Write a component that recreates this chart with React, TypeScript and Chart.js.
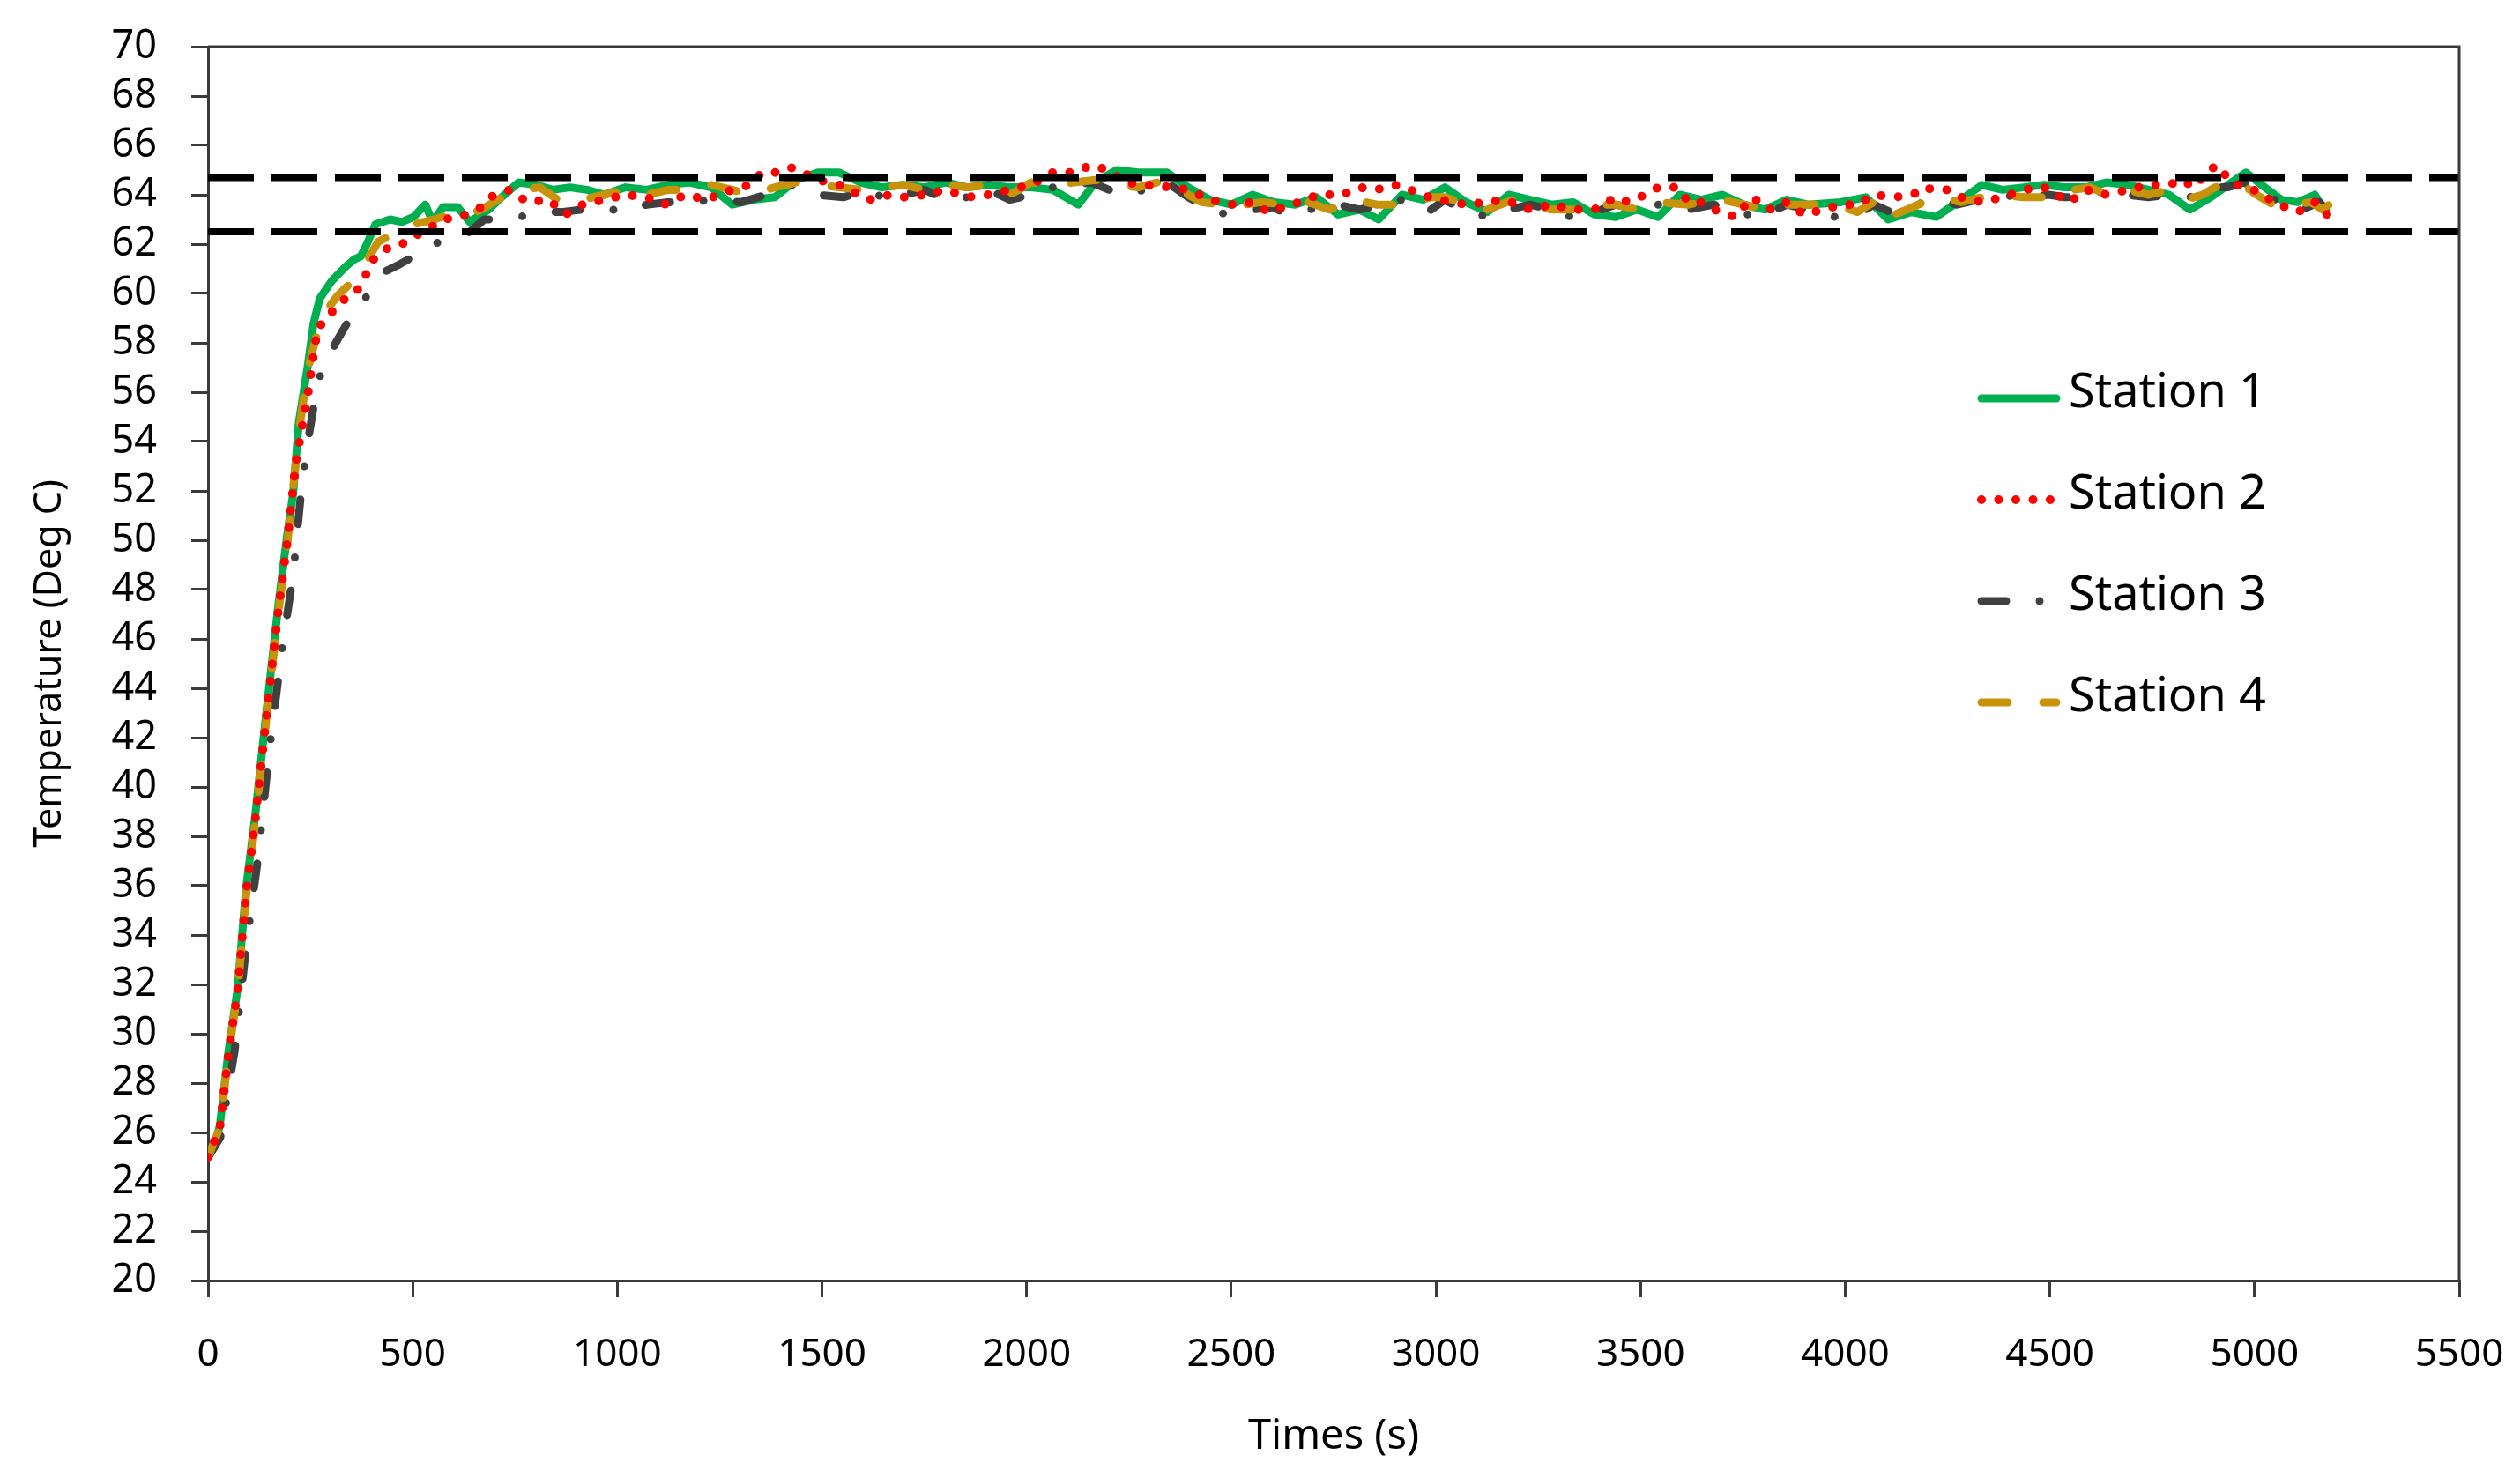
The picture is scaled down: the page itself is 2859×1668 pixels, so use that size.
import { useEffect, useRef } from "react";
import { Chart, registerables } from "chart.js";

Chart.register(...registerables);

// ---------- DATA ----------
const seriesNames = ["Station 1", "Station 2", "Station 3", "Station 4"];

const station1Time = [0, 15, 29, 50, 72, 93, 115, 133, 151, 172, 194, 208, 222, 244, 258, 273, 302, 337, 359, 373, 388, 409, 445, 474, 502, 531, 549, 574, 610, 639, 686, 717, 759, 801, 842, 884, 926, 968, 1020, 1072, 1124, 1176, 1229, 1281, 1333, 1385, 1437, 1490, 1542, 1594, 1646, 1698, 1751, 1803, 1855, 1907, 1959, 2011, 2064, 2126, 2168, 2220, 2272, 2343, 2395, 2448, 2500, 2552, 2604, 2656, 2708, 2761, 2813, 2860, 2917, 2969, 3022, 3074, 3126, 3178, 3230, 3283, 3335, 3387, 3439, 3491, 3543, 3596, 3648, 3700, 3752, 3804, 3857, 3909, 3989, 4050, 4105, 4161, 4222, 4283, 4334, 4385, 4436, 4486, 4537, 4588, 4639, 4690, 4741, 4791, 4842, 4893, 4944, 4979, 5025, 5066, 5106, 5147, 5177];
const station1Temp = [25.0, 25.4, 26.3, 29.3, 31.8, 35.9, 38.8, 41.6, 44.3, 47.4, 50.3, 51.9, 54.8, 57.1, 58.8, 59.8, 60.5, 61.1, 61.4, 61.5, 62.0, 62.8, 63.0, 62.9, 63.1, 63.6, 62.9, 63.5, 63.5, 62.9, 63.4, 63.9, 64.5, 64.4, 64.2, 64.3, 64.2, 64.0, 64.3, 64.2, 64.4, 64.5, 64.3, 63.6, 63.8, 63.9, 64.6, 64.9, 64.9, 64.5, 64.3, 64.4, 64.3, 64.5, 64.3, 64.4, 64.3, 64.3, 64.2, 63.6, 64.5, 65.0, 64.9, 64.9, 64.3, 63.8, 63.6, 64.0, 63.7, 63.6, 63.9, 63.2, 63.4, 63.0, 64.0, 63.8, 64.3, 63.7, 63.3, 64.0, 63.8, 63.6, 63.7, 63.2, 63.1, 63.4, 63.1, 64.0, 63.8, 64.0, 63.6, 63.4, 63.8, 63.6, 63.7, 63.9, 63.0, 63.3, 63.1, 63.8, 64.4, 64.2, 64.3, 64.4, 64.3, 64.3, 64.5, 64.4, 64.2, 64.0, 63.4, 63.9, 64.5, 64.9, 64.3, 63.8, 63.7, 64.0, 63.2];

const station2Time = [0, 29, 50, 72, 93, 115, 133, 151, 172, 194, 215, 244, 262, 269, 300, 327, 359, 380, 391, 409, 445, 474, 502, 538, 574, 617, 668, 689, 738, 780, 832, 874, 915, 968, 1020, 1072, 1114, 1166, 1218, 1281, 1323, 1354, 1395, 1427, 1490, 1542, 1615, 1667, 1698, 1751, 1803, 1855, 1907, 1959, 2011, 2064, 2116, 2158, 2199, 2241, 2291, 2354, 2395, 2448, 2500, 2541, 2594, 2646, 2688, 2708, 2771, 2813, 2855, 2896, 2928, 2959, 3011, 3074, 3126, 3168, 3230, 3283, 3335, 3387, 3439, 3470, 3512, 3543, 3590, 3617, 3648, 3679, 3731, 3773, 3815, 3857, 3898, 3948, 3989, 4029, 4070, 4121, 4166, 4187, 4222, 4253, 4283, 4334, 4385, 4436, 4486, 4548, 4588, 4639, 4690, 4741, 4791, 4822, 4852, 4883, 4908, 4944, 4995, 5015, 5045, 5106, 5147, 5167, 5188];
const station2Temp = [25.0, 26.2, 29.2, 31.7, 35.7, 38.6, 41.4, 44.1, 47.2, 50.0, 53.2, 55.9, 58.0, 58.6, 59.2, 59.7, 60.0, 60.5, 61.0, 61.5, 61.9, 62.0, 62.3, 62.6, 63.0, 63.1, 63.5, 63.9, 64.2, 63.7, 63.8, 63.2, 63.6, 63.8, 64.0, 63.9, 63.6, 64.0, 63.8, 64.2, 64.4, 64.9, 64.9, 65.1, 64.6, 64.4, 63.8, 64.0, 63.9, 64.0, 64.2, 63.9, 64.0, 64.2, 64.4, 64.9, 64.9, 65.2, 65.0, 64.5, 64.4, 64.3, 64.2, 63.8, 63.6, 63.7, 63.3, 63.6, 63.8, 64.0, 64.0, 64.3, 64.2, 64.4, 64.3, 64.0, 63.8, 63.6, 63.7, 63.8, 63.4, 63.6, 63.4, 63.4, 63.9, 63.7, 64.0, 64.3, 64.3, 63.7, 63.7, 63.4, 63.1, 63.9, 63.4, 63.7, 63.2, 63.4, 63.6, 63.6, 64.0, 63.9, 64.0, 64.3, 64.2, 64.2, 63.9, 63.7, 63.9, 64.2, 64.3, 63.7, 64.2, 64.0, 64.2, 64.4, 64.4, 64.6, 64.3, 64.9, 65.2, 64.5, 64.2, 64.1, 63.7, 63.3, 63.7, 63.3, 63.1];

const station3Time = [0, 30, 65, 93, 122, 150, 180, 208, 230, 248, 262, 276, 312, 340, 373, 388, 434, 470, 502, 538, 596, 640, 675, 696, 759, 822, 863, 915, 989, 1010, 1072, 1124, 1176, 1239, 1302, 1364, 1427, 1490, 1552, 1615, 1657, 1698, 1751, 1803, 1855, 1907, 1959, 2011, 2064, 2116, 2158, 2231, 2291, 2343, 2395, 2448, 2489, 2552, 2604, 2635, 2688, 2761, 2813, 2865, 2917, 2980, 3022, 3063, 3126, 3178, 3230, 3283, 3314, 3387, 3439, 3491, 3543, 3617, 3679, 3731, 3794, 3857, 3909, 3968, 4029, 4070, 4111, 4161, 4202, 4232, 4273, 4324, 4375, 4436, 4497, 4537, 4588, 4639, 4690, 4741, 4791, 4842, 4893, 4934, 4974, 5025, 5076, 5117, 5157, 5177];
const station3Temp = [25.0, 25.8, 29.3, 33.5, 37.1, 41.5, 45.5, 48.6, 52.4, 54.4, 55.8, 56.8, 58.0, 58.8, 59.5, 59.9, 60.9, 61.2, 61.5, 61.9, 62.3, 62.5, 63.0, 63.0, 63.1, 63.3, 63.3, 63.4, 63.4, 63.3, 63.6, 63.7, 63.7, 63.8, 63.7, 64.0, 64.4, 64.0, 63.9, 64.2, 63.8, 64.0, 64.2, 63.8, 63.9, 64.2, 63.8, 64.0, 64.3, 64.4, 64.5, 64.0, 64.2, 64.5, 63.9, 63.4, 63.2, 63.4, 63.5, 63.2, 63.4, 63.6, 63.4, 63.6, 63.8, 63.3, 63.8, 63.4, 63.1, 63.4, 63.6, 63.4, 63.1, 63.3, 63.6, 63.4, 63.6, 63.4, 63.6, 63.3, 63.1, 63.6, 63.4, 63.1, 63.2, 63.6, 63.3, 63.6, 63.7, 63.8, 63.6, 63.8, 64.0, 63.9, 64.0, 63.9, 63.9, 64.2, 64.0, 63.9, 64.0, 63.9, 64.3, 64.3, 64.5, 64.0, 63.6, 63.4, 63.7, 63.4];

const station4Time = [0, 29, 50, 72, 93, 115, 133, 151, 172, 194, 222, 244, 262, 284, 316, 359, 380, 416, 452, 502, 553, 589, 632, 668, 707, 759, 811, 863, 915, 968, 1020, 1072, 1124, 1176, 1229, 1281, 1323, 1385, 1437, 1490, 1542, 1594, 1646, 1698, 1751, 1803, 1855, 1907, 1959, 2011, 2064, 2116, 2168, 2220, 2272, 2343, 2395, 2427, 2479, 2531, 2573, 2635, 2688, 2740, 2802, 2855, 2896, 2938, 2990, 3022, 3074, 3126, 3189, 3230, 3283, 3335, 3387, 3439, 3491, 3543, 3617, 3648, 3700, 3752, 3804, 3857, 3909, 3978, 4029, 4080, 4105, 4151, 4192, 4232, 4283, 4334, 4385, 4436, 4517, 4558, 4598, 4639, 4690, 4741, 4791, 4832, 4873, 4903, 4944, 4964, 5005, 5045, 5096, 5137, 5167, 5198];
const station4Temp = [25.0, 26.2, 29.2, 31.6, 35.6, 38.5, 41.3, 44.0, 47.1, 49.9, 54.4, 56.9, 58.1, 59.2, 59.9, 60.6, 61.1, 62.1, 62.4, 62.8, 63.0, 63.2, 63.2, 63.4, 63.8, 64.2, 64.3, 63.7, 63.8, 64.0, 64.2, 64.0, 64.2, 64.2, 64.4, 64.2, 64.0, 64.3, 64.5, 64.4, 64.3, 64.2, 64.3, 64.4, 64.2, 64.4, 64.3, 64.4, 64.0, 64.5, 64.4, 64.5, 64.6, 64.4, 64.3, 64.6, 64.0, 63.7, 63.6, 63.6, 63.7, 63.6, 63.7, 63.4, 63.8, 63.6, 63.6, 63.7, 63.9, 63.9, 63.6, 63.4, 63.8, 63.6, 63.4, 63.4, 63.6, 63.6, 63.4, 63.7, 63.6, 63.7, 63.8, 63.6, 63.4, 63.6, 63.6, 63.6, 63.3, 63.8, 63.1, 63.4, 63.7, 63.9, 63.7, 63.9, 64.0, 63.9, 63.9, 64.2, 64.3, 64.0, 64.2, 64.0, 64.2, 63.8, 64.0, 64.3, 64.4, 64.5, 64.0, 63.6, 63.6, 63.7, 63.4, 63.8];

const limitLines = [64.7, 62.5];
const xMin = 0;
const xMax = 5500;
const xStep = 500;
const yMin = 20;
const yMax = 70;
const yStep = 2;
const xTitle = "Times (s)";
const yTitle = "Temperature (Deg C)";

// ---------- STYLE ----------
const FONT = '"Noto Sans", "DejaVu Sans", sans-serif';
const AXIS = "#3a3a3a";
const seriesColors = ["#00B050", "#FF0000", "#404040", "#C8920A"];
const seriesDash = [[], [0, 19.5], [28, 38, 0, 38], [30, 40]];
const seriesOrder = [5, 2, 4, 3];

function toPoints(t: number[], v: number[]) {
  return t.map((x, i) => ({ x, y: v[i] }));
}

const framePlugin = {
  id: "frameBox",
  afterDraw(chart: any) {
    const { ctx, chartArea } = chart;
    const { left, top, right, bottom } = chartArea;
    ctx.save();
    ctx.strokeStyle = AXIS;
    ctx.lineWidth = 3;
    ctx.setLineDash([]);
    ctx.beginPath();
    ctx.moveTo(left, top);
    ctx.lineTo(right, top);
    ctx.lineTo(right, bottom);
    ctx.stroke();
    ctx.restore();
  },
};

const legendPlugin = {
  id: "stationLegend",
  afterDraw(chart: any) {
    const { ctx, chartArea } = chart;
    const x0 = chartArea.left + 2012;
    const x1 = x0 + 85;
    const textX = x0 + 99;
    const y0 = chartArea.top + 399;
    const gap = 115;
    ctx.save();
    for (let i = 0; i < 4; i++) {
      const ds = chart.data.datasets[i];
      const y = y0 + i * gap;
      ctx.beginPath();
      ctx.strokeStyle = ds.borderColor;
      ctx.lineWidth = ds.borderWidth;
      ctx.lineCap = "round";
      ctx.setLineDash(ds.borderDash || []);
      ctx.moveTo(x0, y);
      ctx.lineTo(x1, y);
      ctx.stroke();
      ctx.setLineDash([]);
      ctx.fillStyle = "#000";
      ctx.font = `54px ${FONT}`;
      ctx.textAlign = "left";
      ctx.textBaseline = "alphabetic";
      ctx.fillText(ds.label, textX, y + 10);
    }
    ctx.restore();
  },
};

export default function App() {
  const canvasRef = useRef<HTMLCanvasElement | null>(null);

  useEffect(() => {
    const canvas = canvasRef.current;
    if (!canvas) return;
    const times = [station1Time, station2Time, station3Time, station4Time];
    const temps = [station1Temp, station2Temp, station3Temp, station4Temp];
    const stationSets = seriesNames.map((name, i) => ({
      label: name,
      data: toPoints(times[i], temps[i]),
      borderColor: seriesColors[i],
      backgroundColor: seriesColors[i],
      borderWidth: i === 1 ? 10 : 9,
      borderDash: seriesDash[i],
      borderCapStyle: "round",
      borderJoinStyle: "round",
      pointRadius: 0,
      tension: 0,
      fill: false,
      order: seriesOrder[i],
    }));
    const limitSets = limitLines.map((v, i) => ({
      label: "limit" + i,
      data: [
        { x: xMin, y: v },
        { x: xMax, y: v },
      ],
      borderColor: "#000",
      borderWidth: 8,
      borderDash: [52, 20],
      borderCapStyle: "butt",
      pointRadius: 0,
      fill: false,
      order: 0,
    }));

    const chart = new Chart(canvas, {
      type: "line",
      data: { datasets: [...stationSets, ...limitSets] as any },
      options: {
        animation: false,
        responsive: false,
        devicePixelRatio: 1,
        layout: { padding: { left: 0, top: 53, right: 69, bottom: 0 } },
        plugins: {
          legend: { display: false },
          tooltip: { enabled: false },
        },
        scales: {
          x: {
            type: "linear",
            min: xMin,
            max: xMax,
            ticks: {
              stepSize: xStep,
              autoSkip: false,
              maxRotation: 0,
              color: "#000",
              padding: 39,
              font: { family: FONT, size: 44 },
              callback: (v: any) => String(v),
            },
            grid: {
              drawOnChartArea: false,
              drawTicks: true,
              tickLength: 19,
              color: AXIS,
              tickColor: AXIS,
              lineWidth: 3,
              tickWidth: 3,
            },
            border: { display: true, color: AXIS, width: 3 },
            title: {
              display: true,
              text: xTitle,
              color: "#000",
              font: { family: FONT, size: 47 },
              padding: { top: 0, bottom: 9 },
            },
            afterFit: (s: any) => {
              s.height = 215;
              s.paddingLeft = 0;
              s.paddingRight = 0;
            },
          },
          y: {
            type: "linear",
            min: yMin,
            max: yMax,
            ticks: {
              stepSize: yStep,
              autoSkip: false,
              color: "#000",
              padding: 39,
              font: { family: FONT, size: 45 },
              callback: (v: any) => String(v),
            },
            grid: {
              drawOnChartArea: false,
              drawTicks: true,
              tickLength: 19,
              color: AXIS,
              tickColor: AXIS,
              lineWidth: 3,
              tickWidth: 3,
            },
            border: { display: true, color: AXIS, width: 3 },
            title: {
              display: true,
              text: yTitle,
              color: "#000",
              font: { family: FONT, size: 43 },
              padding: { top: 31, bottom: 0 },
            },
            afterFit: (s: any) => {
              s.width = 236;
              s.paddingTop = 0;
              s.paddingBottom = 0;
            },
          },
        },
      } as any,
      plugins: [framePlugin, legendPlugin],
    });
    return () => chart.destroy();
  }, []);

  return (
    <div
      style={{
        position: "fixed",
        left: 0,
        top: 0,
        width: 2859,
        height: 1668,
        background: "#fff",
      }}
    >
      <canvas ref={canvasRef} width={2859} height={1668} />
    </div>
  );
}
